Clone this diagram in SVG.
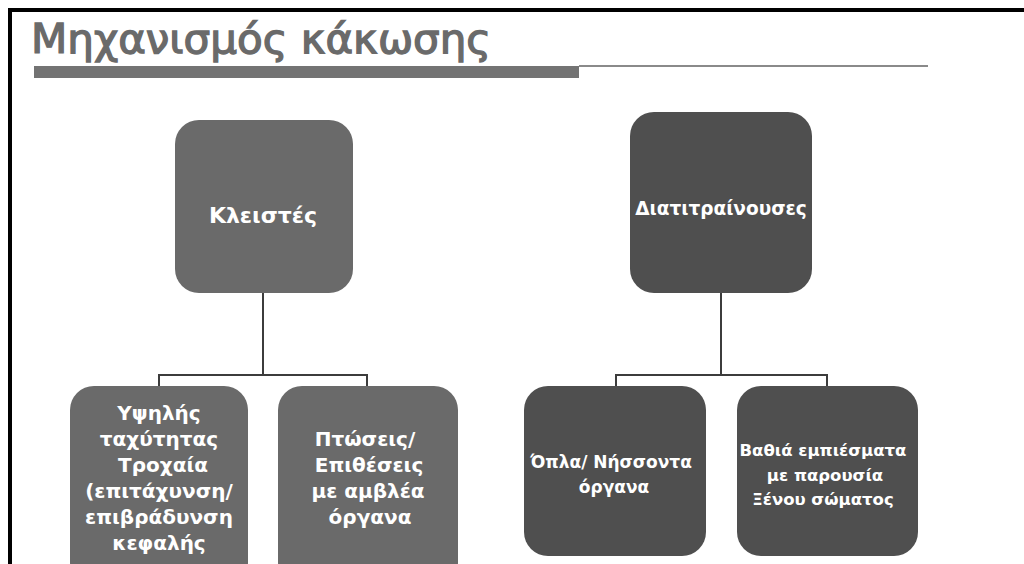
<svg xmlns="http://www.w3.org/2000/svg" width="1024" height="564" viewBox="0 0 1024 564">
<style>
.t{font-family:"DejaVu Sans","Liberation Sans",sans-serif;font-weight:bold;fill:#ffffff;text-anchor:middle}
.c{fill:none;stroke:#3c3c3c;stroke-width:2}
.g1{fill:#6a6a6a}
.g2{fill:#4f4f4f}
</style>
<rect width="1024" height="564" fill="#ffffff"/>
<path d="M10 564 V10 H1024" fill="none" stroke="#000" stroke-width="4"/>
<text x="31" y="53" font-family="DejaVu Sans, sans-serif" font-size="40" fill="#6a6a6a" stroke="#6a6a6a" stroke-width="1.3" textLength="460" lengthAdjust="spacingAndGlyphs">Μηχανισμός κάκωσης</text>
<rect x="34" y="66" width="545" height="12" fill="#737373"/>
<rect x="579" y="65" width="349" height="2" fill="#8a8a8a"/>
<g id="connectors">
<path class="c" d="M263 293 V375 M159 386 V375 H367 V386"/>
<path class="c" d="M721 293 V375 M616 386 V375 H827 V386"/>
</g>
<g id="n1"><rect class="g1" x="175" y="120" width="178" height="173" rx="24"/>
<text class="t" x="263" y="223" font-size="22">Κλειστές</text></g>
<g id="n2"><rect class="g2" x="630" y="112" width="182" height="181" rx="24"/>
<text class="t" x="721" y="215" font-size="18.5">Διατιτραίνουσες</text></g>
<g id="n3"><rect class="g1" x="70" y="386" width="178" height="200" rx="24"/>
<text class="t" font-size="20"><tspan x="159" y="420">Υψηλής</tspan><tspan x="159" y="446">ταχύτητας</tspan><tspan x="163" y="472">Τροχαία</tspan><tspan x="159" y="498">(επιτάχυνση/</tspan><tspan x="159" y="524">επιβράδυνση</tspan><tspan x="159" y="550">κεφαλής</tspan></text></g>
<g id="n4"><rect class="g1" x="278" y="386" width="180" height="200" rx="24"/>
<text class="t" font-size="20"><tspan x="365" y="446">Πτώσεις/</tspan><tspan x="369" y="472">Επιθέσεις</tspan><tspan x="368" y="498">με αμβλέα</tspan><tspan x="370" y="524">όργανα</tspan></text></g>
<g id="n5"><rect class="g2" x="524" y="386" width="182" height="170" rx="24"/>
<text class="t" font-size="17"><tspan x="611" y="468">Όπλα/ Νήσσοντα</tspan><tspan x="614" y="493">όργανα</tspan></text></g>
<g id="n6"><rect class="g2" x="737" y="386" width="181" height="170" rx="24"/>
<text class="t" font-size="16.5"><tspan x="823" y="456">Βαθιά εμπιέσματα</tspan><tspan x="825" y="481">με παρουσία</tspan><tspan x="823" y="505">Ξένου σώματος</tspan></text></g>
</svg>
